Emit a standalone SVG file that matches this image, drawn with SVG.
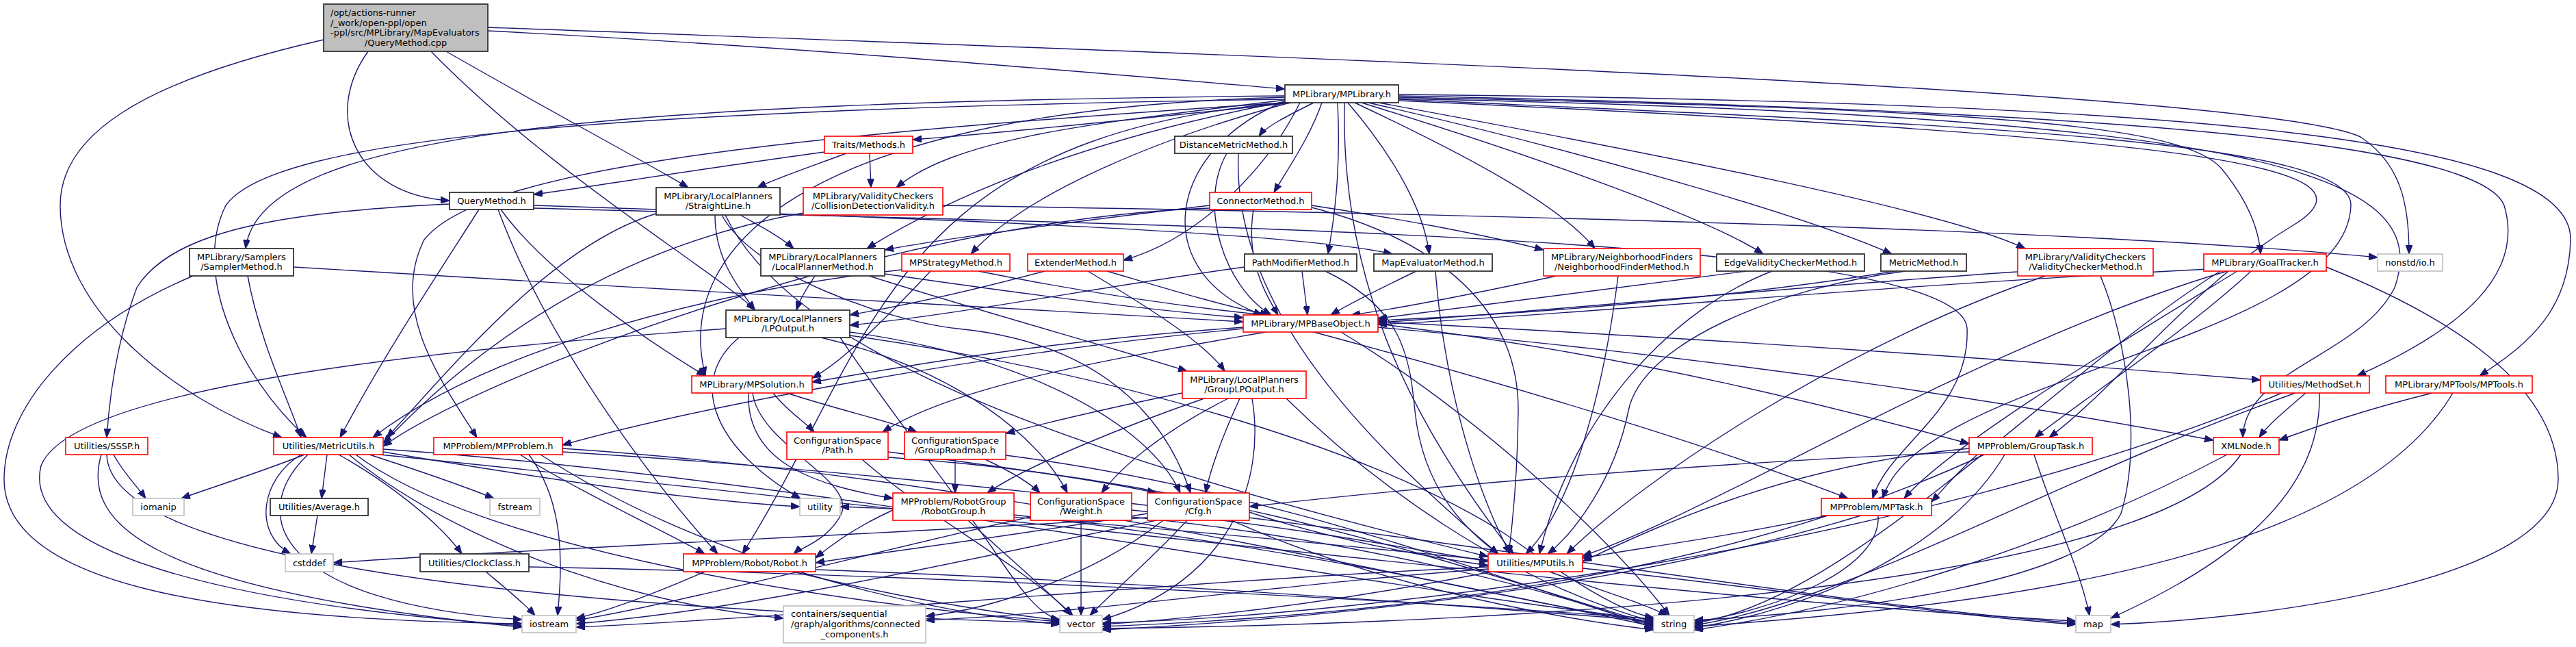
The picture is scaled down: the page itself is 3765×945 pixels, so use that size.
<svg xmlns="http://www.w3.org/2000/svg" width="3765" height="945" viewBox="0 0 3765 945">
<style>
.e{fill:none;stroke:#191970;stroke-width:1.4;marker-end:url(#a)}
text{font-family:"DejaVu Sans","Liberation Sans",sans-serif;font-size:13px;fill:#000}
.c{text-anchor:middle}
.b{fill:#fff;stroke:#333;stroke-width:1.8}
.r{fill:#fff;stroke:#ff0000;stroke-width:1.6}
.g{fill:#fff;stroke:#bfbfbf;stroke-width:1.6}
.root{fill:#bfbfbf;stroke:#333;stroke-width:1.8}
</style>
<defs>
<marker id="a" viewBox="0 0 13 10" refX="13" refY="5" markerWidth="13" markerHeight="10" markerUnits="userSpaceOnUse" orient="auto"><path d="M0,0 L13,5 L0,10 z" fill="#191970" stroke="#191970"/></marker>
</defs>
<rect width="3765" height="945" fill="#fff"/>
<g id="edges">
<path class="e" d="M713,45 C1200,70 1700,115 1878,130"/>
<path class="e" d="M713,40 C1800,80 3300,130 3450,200 C3510,240 3521,300 3521,371"/>
<path class="e" d="M538,75 C470,170 520,285 657,293"/>
<path class="e" d="M652,75 C800,160 950,240 1006,274"/>
<path class="e" d="M630,75 C800,250 1050,400 1104,453"/>
<path class="e" d="M473,58 C200,120 88,200 88,300 C88,450 250,580 412,639"/>
<path class="e" d="M1878,140 C900,150 380,190 359,363"/>
<path class="e" d="M1890,150 C1700,170 1450,195 1334,204"/>
<path class="e" d="M1920,150 C1880,170 1850,185 1840,199"/>
<path class="e" d="M1878,146 C1600,180 1400,200 1310,274"/>
<path class="e" d="M1932,150 C1915,200 1880,250 1862,281"/>
<path class="e" d="M1880,148 C1600,200 1400,280 1267,363"/>
<path class="e" d="M1885,150 C1700,200 1500,280 1419,371"/>
<path class="e" d="M1900,150 C1850,250 1750,350 1642,380"/>
<path class="e" d="M1955,150 C1960,250 1950,320 1941,371"/>
<path class="e" d="M1970,150 C2030,220 2080,300 2089,371"/>
<path class="e" d="M1980,150 C2150,230 2280,300 2331,363"/>
<path class="e" d="M1990,150 C2250,230 2500,320 2577,371"/>
<path class="e" d="M2000,150 C2350,230 2650,320 2765,371"/>
<path class="e" d="M2015,150 C2450,230 2850,310 2960,363"/>
<path class="e" d="M2044,142 C2900,160 3200,180 3250,250 C3290,300 3302,340 3304,371"/>
<path class="e" d="M1878,148 C1700,220 1680,400 1845,460"/>
<path class="e" d="M1878,142 C1200,160 980,350 1031,549"/>
<path class="e" d="M2044,140 C3000,160 3620,200 3660,300 C3690,400 3600,480 3445,549"/>
<path class="e" d="M2044,138 C3200,150 3760,200 3757,350 C3755,450 3700,500 3624,549"/>
<path class="e" d="M1878,145 C900,160 400,200 330,300 C280,400 350,550 448,639"/>
<path class="e" d="M1878,150 C1100,200 700,250 620,350 C570,450 640,550 697,639"/>
<path class="e" d="M2044,147 C3200,200 3500,240 3350,330 C3200,420 3100,560 2995,639"/>
<path class="e" d="M2044,144 C3300,170 3560,250 3500,420 C3450,520 3280,540 3278,639"/>
<path class="e" d="M2044,145 C2800,180 3440,200 3436,300 C3430,500 2800,550 2752,728"/>
<path class="e" d="M1965,150 C1960,400 2050,600 2212,809"/>
<path class="e" d="M1878,150 C1300,200 1280,500 1085,809"/>
<path class="e" d="M780,300 C1400,320 1900,340 2035,371"/>
<path class="e" d="M657,298 C400,310 250,340 200,420 C170,500 160,580 156,639"/>
<path class="e" d="M700,306 C640,400 560,520 497,639"/>
<path class="e" d="M732,306 C800,400 950,500 1031,549"/>
<path class="e" d="M728,306 C800,500 950,700 1049,809"/>
<path class="e" d="M780,304 C1700,330 2870,340 2875,480 C2880,600 2760,650 2737,728"/>
<path class="e" d="M429,390 C900,420 1500,450 1817,470"/>
<path class="e" d="M362,403 C380,500 420,580 440,639"/>
<path class="e" d="M282,403 C100,480 6,600 6,700 C6,850 300,905 763,911"/>
<path class="e" d="M1205,222 C1000,250 850,275 780,284"/>
<path class="e" d="M1237,224 C1180,245 1130,262 1107,274"/>
<path class="e" d="M1271,224 L1273,274"/>
<path class="e" d="M1793,224 C1750,300 1790,420 1858,460"/>
<path class="e" d="M1810,224 C1800,450 2000,650 2190,809"/>
<path class="e" d="M1082,314 C1110,330 1140,345 1160,363"/>
<path class="e" d="M1045,314 C1045,380 1080,420 1103,453"/>
<path class="e" d="M959,312 C800,360 650,550 565,639"/>
<path class="e" d="M1055,314 C1100,400 1300,470 1400,480 C1600,500 1700,600 1740,720"/>
<path class="e" d="M1060,314 C1150,500 1500,650 2175,813"/>
<path class="e" d="M1378,300 C2000,310 3000,330 3475,376"/>
<path class="e" d="M1174,311 C900,360 700,500 560,648"/>
<path class="e" d="M1768,300 C1600,320 1400,345 1293,365"/>
<path class="e" d="M1917,300 C2050,320 2180,345 2256,365"/>
<path class="e" d="M1832,306 C1820,380 1850,430 1868,460"/>
<path class="e" d="M1768,304 C1300,320 700,550 560,652"/>
<path class="e" d="M1917,303 C2100,350 2220,450 2219,600 C2218,700 2210,770 2205,809"/>
<path class="e" d="M1191,403 C1180,420 1170,435 1164,453"/>
<path class="e" d="M1293,400 C1500,430 1700,455 1817,464"/>
<path class="e" d="M1270,403 C1450,460 1600,500 1735,542"/>
<path class="e" d="M1430,396 C1600,430 1750,450 1848,460"/>
<path class="e" d="M1360,396 C1300,460 1230,530 1187,552"/>
<path class="e" d="M1318,394 C1000,430 700,520 545,639"/>
<path class="e" d="M1527,396 C1400,430 1300,450 1242,460"/>
<path class="e" d="M1618,396 C1700,420 1780,445 1855,460"/>
<path class="e" d="M1590,396 C1680,450 1760,500 1790,542"/>
<path class="e" d="M1903,396 L1911,460"/>
<path class="e" d="M1937,396 C2050,450 2060,520 2068,600 C2080,720 2150,780 2190,809"/>
<path class="e" d="M1819,390 C1600,420 1400,460 1242,475"/>
<path class="e" d="M2070,396 C2020,420 1970,445 1945,460"/>
<path class="e" d="M2098,396 C2110,550 2150,700 2207,809"/>
<path class="e" d="M2275,403 C2150,430 2050,450 1975,460"/>
<path class="e" d="M2365,403 C2340,600 2290,750 2230,809"/>
<path class="e" d="M2553,396 C2300,430 2100,455 2014,465"/>
<path class="e" d="M2590,396 C2450,450 2300,600 2250,809"/>
<path class="e" d="M2770,396 C2500,440 2200,460 2014,468"/>
<path class="e" d="M2785,396 C2600,420 2400,500 2380,600 C2360,700 2300,780 2262,809"/>
<path class="e" d="M2949,397 C2600,420 2200,460 2014,471"/>
<path class="e" d="M2990,403 C2700,500 2400,700 2290,809"/>
<path class="e" d="M3070,403 C3110,500 3130,650 3100,750 C3050,850 2700,895 2476,906"/>
<path class="e" d="M3228,393 C2700,420 2300,460 2014,474"/>
<path class="e" d="M3255,396 C2900,500 2500,750 2313,812"/>
<path class="e" d="M3270,396 C3100,500 2850,650 2783,728"/>
<path class="e" d="M3290,396 C3200,480 3050,580 2974,639"/>
<path class="e" d="M3400,390 C3550,450 3739,550 3739,700 C3739,850 3300,905 3085,912"/>
<path class="e" d="M3245,396 C3000,550 2700,880 2476,910"/>
<path class="e" d="M1200,493 C1400,540 1520,640 1560,720"/>
<path class="e" d="M1242,485 C1500,520 1680,620 1725,720"/>
<path class="e" d="M1228,493 C1300,600 1380,700 1450,800 C1490,860 1520,900 1549,905"/>
<path class="e" d="M1080,493 C1000,560 1050,660 1170,728"/>
<path class="e" d="M1242,490 C1600,540 2000,650 2200,780 C2300,850 2370,895 2417,902"/>
<path class="e" d="M1061,480 C500,520 100,580 60,680 C30,800 300,880 763,914"/>
<path class="e" d="M1817,478 C1500,500 1300,540 1187,558"/>
<path class="e" d="M1817,480 C1400,520 1000,600 822,650"/>
<path class="e" d="M1920,485 C2200,560 2500,650 2701,728"/>
<path class="e" d="M2014,473 C2400,520 2700,600 2878,648"/>
<path class="e" d="M2014,478 C2600,530 3000,600 3235,643"/>
<path class="e" d="M2014,470 C2600,500 3000,530 3304,555"/>
<path class="e" d="M1960,485 C2150,600 2350,780 2440,899"/>
<path class="e" d="M1850,485 C1650,520 1400,560 1290,631"/>
<path class="e" d="M1130,574 C1150,600 1175,615 1190,631"/>
<path class="e" d="M1150,574 C1230,600 1300,615 1340,631"/>
<path class="e" d="M1094,574 C1090,680 1200,710 1305,728"/>
<path class="e" d="M1100,574 C1110,650 1250,700 1230,750 C1210,790 1170,800 1160,809"/>
<path class="e" d="M1728,574 C1600,600 1520,620 1470,633"/>
<path class="e" d="M1760,582 C1650,620 1500,680 1443,720"/>
<path class="e" d="M1795,582 C1700,630 1640,680 1610,720"/>
<path class="e" d="M1812,582 C1790,630 1770,680 1762,720"/>
<path class="e" d="M1830,582 C1850,700 1800,850 1611,905"/>
<path class="e" d="M1880,582 C2000,700 2200,850 2417,908"/>
<path class="e" d="M3370,574 C3340,600 3315,620 3302,639"/>
<path class="e" d="M3355,574 C3000,700 2700,880 2476,913"/>
<path class="e" d="M3390,574 C3395,750 3200,850 3085,903"/>
<path class="e" d="M3335,574 C2800,800 2000,900 1611,910"/>
<path class="e" d="M3555,574 C3450,600 3380,625 3331,643"/>
<path class="e" d="M3585,574 C3450,800 3000,880 2476,915"/>
<path class="e" d="M166,664 C180,690 200,710 213,728"/>
<path class="e" d="M148,664 C120,760 200,860 763,916"/>
<path class="e" d="M156,664 C160,780 500,880 1549,910"/>
<path class="e" d="M445,664 C380,690 300,715 265,728"/>
<path class="e" d="M478,664 L470,728"/>
<path class="e" d="M540,664 C620,690 690,715 722,728"/>
<path class="e" d="M440,664 C380,700 370,780 425,809"/>
<path class="e" d="M495,664 C560,700 640,760 675,809"/>
<path class="e" d="M450,664 C360,750 400,880 763,905"/>
<path class="e" d="M520,664 C700,800 1200,880 1549,908"/>
<path class="e" d="M560,656 C1200,700 2000,860 2417,905"/>
<path class="e" d="M510,664 C650,780 900,880 1145,903"/>
<path class="e" d="M560,660 C800,700 1000,730 1169,740"/>
<path class="e" d="M555,664 C1500,760 2500,880 3034,907"/>
<path class="e" d="M773,664 C830,740 820,840 815,899"/>
<path class="e" d="M790,664 C1000,800 1300,890 1549,912"/>
<path class="e" d="M822,655 C1500,700 2100,860 2417,910"/>
<path class="e" d="M760,664 C850,720 980,780 1030,809"/>
<path class="e" d="M822,660 C1800,720 2600,880 3034,910"/>
<path class="e" d="M1298,660 C1450,680 1600,700 1690,720"/>
<path class="e" d="M1260,671 C1350,750 1500,830 1568,899"/>
<path class="e" d="M1298,668 C1800,700 2200,850 2417,912"/>
<path class="e" d="M1396,671 L1396,720"/>
<path class="e" d="M1440,671 C1480,690 1505,705 1520,720"/>
<path class="e" d="M1470,665 C1900,720 2250,870 2417,914"/>
<path class="e" d="M2890,664 C2860,690 2840,715 2823,733"/>
<path class="e" d="M2878,655 C2600,680 2400,780 2313,820"/>
<path class="e" d="M2930,664 C2850,800 2650,890 2476,917"/>
<path class="e" d="M2973,664 C3000,750 3040,830 3054,899"/>
<path class="e" d="M2900,664 C2500,850 2000,900 1611,915"/>
<path class="e" d="M2878,660 C2400,680 2000,720 1826,740"/>
<path class="e" d="M3255,664 C3000,800 2700,890 2476,920"/>
<path class="e" d="M3275,664 C3150,850 2300,910 1611,918"/>
<path class="e" d="M1305,745 C1250,770 1210,800 1192,815"/>
<path class="e" d="M1415,760 C1480,820 1540,870 1566,899"/>
<path class="e" d="M1482,752 C1900,800 2250,880 2417,915"/>
<path class="e" d="M1580,760 L1580,899"/>
<path class="e" d="M1654,755 C2000,790 2300,870 2417,918"/>
<path class="e" d="M1654,745 C1900,770 2050,800 2175,820"/>
<path class="e" d="M1506,755 C1300,800 1000,880 842,906"/>
<path class="e" d="M1735,760 C1680,820 1620,870 1593,899"/>
<path class="e" d="M1677,750 C1500,780 1300,805 1192,822"/>
<path class="e" d="M1826,748 C1950,790 2100,815 2175,826"/>
<path class="e" d="M1690,760 C1400,820 1100,890 842,911"/>
<path class="e" d="M1800,760 C2000,850 2250,900 2417,920"/>
<path class="e" d="M1677,756 C1300,780 800,800 487,822"/>
<path class="e" d="M1700,760 C1600,840 1450,890 1353,900"/>
<path class="e" d="M2670,753 C2550,780 2400,800 2313,815"/>
<path class="e" d="M2720,753 C2400,850 2000,900 1611,920"/>
<path class="e" d="M2745,753 C2750,830 2600,890 2476,909"/>
<path class="e" d="M710,835 C740,860 765,880 782,899"/>
<path class="e" d="M773,828 C1400,840 2100,880 2417,904"/>
<path class="e" d="M1030,835 C950,870 880,895 842,903"/>
<path class="e" d="M1160,835 C1300,870 1450,895 1549,906"/>
<path class="e" d="M1192,832 C1700,850 2200,890 2417,907"/>
<path class="e" d="M2265,835 C2330,860 2400,880 2437,899"/>
<path class="e" d="M2175,828 C1700,850 1200,900 842,916"/>
<path class="e" d="M2180,835 C2000,870 1800,900 1611,912"/>
<path class="e" d="M2175,831 C1900,850 1600,895 1353,906"/>
<path class="e" d="M2313,830 C2600,860 2850,900 3034,912"/>
<path class="e" d="M2175,818 C1800,780 1400,745 1228,740"/>
<path class="e" d="M464,753 L455,809"/>
</g>
<g id="n0"><rect class="root" x="473" y="6" width="240" height="69"/><text x="483" y="23">/opt/actions-runner</text><text x="483" y="37.5">/_work/open-ppl/open</text><text x="483" y="52">-ppl/src/MPLibrary/MapEvaluators</text><text class="c" x="593" y="66.5">/QueryMethod.cpp</text></g>
<g id="n1"><rect class="b" x="1878" y="124" width="166" height="26"/><text class="c" x="1961" y="141.5">MPLibrary/MPLibrary.h</text></g>
<g id="n2"><rect class="b" x="657" y="281" width="123" height="25"/><text class="c" x="718.5" y="298">QueryMethod.h</text></g>
<g id="n3"><rect class="b" x="277" y="363" width="152" height="40"/><text class="c" x="353" y="379.5">MPLibrary/Samplers</text><text class="c" x="353" y="394">/SamplerMethod.h</text></g>
<g id="n4"><rect class="r" x="1205" y="199" width="129" height="25"/><text class="c" x="1269.5" y="216">Traits/Methods.h</text></g>
<g id="n5"><rect class="b" x="1717" y="199" width="172" height="25"/><text class="c" x="1803" y="216">DistanceMetricMethod.h</text></g>
<g id="n6"><rect class="b" x="959" y="274" width="181" height="40"/><text class="c" x="1049.5" y="290.5">MPLibrary/LocalPlanners</text><text class="c" x="1049.5" y="305">/StraightLine.h</text></g>
<g id="n7"><rect class="r" x="1174" y="274" width="204" height="40"/><text class="c" x="1276" y="290.5">MPLibrary/ValidityCheckers</text><text class="c" x="1276" y="305">/CollisionDetectionValidity.h</text></g>
<g id="n8"><rect class="r" x="1768" y="281" width="149" height="25"/><text class="c" x="1842.5" y="298">ConnectorMethod.h</text></g>
<g id="n9"><rect class="b" x="1112" y="363" width="181" height="40"/><text class="c" x="1202.5" y="379.5">MPLibrary/LocalPlanners</text><text class="c" x="1202.5" y="394">/LocalPlannerMethod.h</text></g>
<g id="n10"><rect class="r" x="1318" y="371" width="158" height="25"/><text class="c" x="1397" y="388">MPStrategyMethod.h</text></g>
<g id="n11"><rect class="r" x="1502" y="371" width="140" height="25"/><text class="c" x="1572" y="388">ExtenderMethod.h</text></g>
<g id="n12"><rect class="b" x="1819" y="371" width="164" height="25"/><text class="c" x="1901" y="388">PathModifierMethod.h</text></g>
<g id="n13"><rect class="b" x="2008" y="371" width="173" height="25"/><text class="c" x="2094.5" y="388">MapEvaluatorMethod.h</text></g>
<g id="n14"><rect class="r" x="2256" y="363" width="229" height="40"/><text class="c" x="2370.5" y="379.5">MPLibrary/NeighborhoodFinders</text><text class="c" x="2370.5" y="394">/NeighborhoodFinderMethod.h</text></g>
<g id="n15"><rect class="b" x="2509" y="371" width="216" height="25"/><text class="c" x="2617" y="388">EdgeValidityCheckerMethod.h</text></g>
<g id="n16"><rect class="b" x="2749" y="371" width="125" height="25"/><text class="c" x="2811.5" y="388">MetricMethod.h</text></g>
<g id="n17"><rect class="r" x="2949" y="363" width="198" height="40"/><text class="c" x="3048" y="379.5">MPLibrary/ValidityCheckers</text><text class="c" x="3048" y="394">/ValidityCheckerMethod.h</text></g>
<g id="n18"><rect class="r" x="3221" y="371" width="179" height="25"/><text class="c" x="3310.5" y="388">MPLibrary/GoalTracker.h</text></g>
<g id="n19"><rect class="g" x="3475" y="371" width="95" height="25"/><text class="c" x="3522.5" y="388">nonstd/io.h</text></g>
<g id="n20"><rect class="b" x="1061" y="453" width="181" height="40"/><text class="c" x="1151.5" y="469.5">MPLibrary/LocalPlanners</text><text class="c" x="1151.5" y="484">/LPOutput.h</text></g>
<g id="n21"><rect class="r" x="1817" y="460" width="197" height="25"/><text class="c" x="1915.5" y="477">MPLibrary/MPBaseObject.h</text></g>
<g id="n22"><rect class="r" x="1011" y="549" width="176" height="25"/><text class="c" x="1099" y="566">MPLibrary/MPSolution.h</text></g>
<g id="n23"><rect class="r" x="1728" y="542" width="181" height="40"/><text class="c" x="1818.5" y="558.5">MPLibrary/LocalPlanners</text><text class="c" x="1818.5" y="573">/GroupLPOutput.h</text></g>
<g id="n24"><rect class="r" x="3304" y="549" width="159" height="25"/><text class="c" x="3383.5" y="566">Utilities/MethodSet.h</text></g>
<g id="n25"><rect class="r" x="3487" y="549" width="214" height="25"/><text class="c" x="3594" y="566">MPLibrary/MPTools/MPTools.h</text></g>
<g id="n26"><rect class="r" x="96" y="639" width="120" height="25"/><text class="c" x="156" y="656">Utilities/SSSP.h</text></g>
<g id="n27"><rect class="r" x="400" y="639" width="160" height="25"/><text class="c" x="480" y="656">Utilities/MetricUtils.h</text></g>
<g id="n28"><rect class="r" x="634" y="639" width="188" height="25"/><text class="c" x="728" y="656">MPProblem/MPProblem.h</text></g>
<g id="n29"><rect class="r" x="1150" y="631" width="148" height="40"/><text class="c" x="1224" y="647.5">ConfigurationSpace</text><text class="c" x="1224" y="662">/Path.h</text></g>
<g id="n30"><rect class="r" x="1322" y="631" width="148" height="40"/><text class="c" x="1396" y="647.5">ConfigurationSpace</text><text class="c" x="1396" y="662">/GroupRoadmap.h</text></g>
<g id="n31"><rect class="r" x="2878" y="639" width="180" height="25"/><text class="c" x="2968" y="656">MPProblem/GroupTask.h</text></g>
<g id="n32"><rect class="r" x="3235" y="639" width="96" height="25"/><text class="c" x="3283" y="656">XMLNode.h</text></g>
<g id="n33"><rect class="g" x="194" y="728" width="75" height="25"/><text class="c" x="231.5" y="745">iomanip</text></g>
<g id="n34"><rect class="b" x="395" y="728" width="143" height="25"/><text class="c" x="466.5" y="745">Utilities/Average.h</text></g>
<g id="n35"><rect class="g" x="716" y="728" width="73" height="25"/><text class="c" x="752.5" y="745">fstream</text></g>
<g id="n36"><rect class="g" x="1169" y="728" width="59" height="25"/><text class="c" x="1198.5" y="745">utility</text></g>
<g id="n37"><rect class="r" x="1305" y="720" width="177" height="40"/><text class="c" x="1393.5" y="736.5">MPProblem/RobotGroup</text><text class="c" x="1393.5" y="751">/RobotGroup.h</text></g>
<g id="n38"><rect class="r" x="1506" y="720" width="148" height="40"/><text class="c" x="1580" y="736.5">ConfigurationSpace</text><text class="c" x="1580" y="751">/Weight.h</text></g>
<g id="n39"><rect class="r" x="1677" y="720" width="149" height="40"/><text class="c" x="1751.5" y="736.5">ConfigurationSpace</text><text class="c" x="1751.5" y="751">/Cfg.h</text></g>
<g id="n40"><rect class="r" x="2662" y="728" width="161" height="25"/><text class="c" x="2742.5" y="745">MPProblem/MPTask.h</text></g>
<g id="n41"><rect class="g" x="417" y="809" width="70" height="26"/><text class="c" x="452" y="826.5">cstddef</text></g>
<g id="n42"><rect class="b" x="614" y="809" width="159" height="26"/><text class="c" x="693.5" y="826.5">Utilities/ClockClass.h</text></g>
<g id="n43"><rect class="r" x="999" y="809" width="193" height="26"/><text class="c" x="1095.5" y="826.5">MPProblem/Robot/Robot.h</text></g>
<g id="n44"><rect class="r" x="2175" y="809" width="138" height="26"/><text class="c" x="2244" y="826.5">Utilities/MPUtils.h</text></g>
<g id="n45"><rect class="g" x="1145" y="885" width="208" height="54"/><text x="1156" y="901">containers/sequential</text><text x="1156" y="915.5">/graph/algorithms/connected</text><text class="c" x="1249" y="930.5">_components.h</text></g>
<g id="n46"><rect class="g" x="763" y="899" width="79" height="25"/><text class="c" x="802.5" y="916">iostream</text></g>
<g id="n47"><rect class="g" x="1549" y="899" width="62" height="25"/><text class="c" x="1580" y="916">vector</text></g>
<g id="n48"><rect class="g" x="2417" y="899" width="59" height="25"/><text class="c" x="2446.5" y="916">string</text></g>
<g id="n49"><rect class="g" x="3034" y="899" width="51" height="25"/><text class="c" x="3059.5" y="916">map</text></g>
</svg>
